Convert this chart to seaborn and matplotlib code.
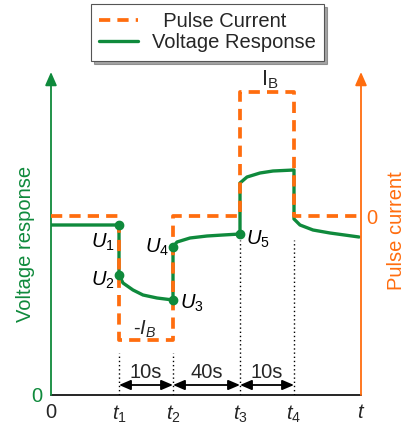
import numpy as np
import pandas as pd
import matplotlib
matplotlib.use("Agg")
import matplotlib.pyplot as plt
import seaborn as sns

# ---------------- data (schematic units) ----------------
time_v = [0, 68, 68, 72, 82, 92, 106, 122, 122, 126, 139, 156, 172, 189,
          189, 196, 209, 222, 243, 243, 249, 262, 279, 308]
voltage = [170, 170, 120, 112, 105, 100, 97, 95, 148, 153, 157, 159, 160, 161,
           212, 218, 222, 224, 225, 176, 170, 165, 162, 158]

time_i = [0, 68, 68, 122, 122, 189, 189, 243, 243, 310]
current = [0, 0, -1, -1, 0, 0, 1, 1, 0, 0]

point_t = [68, 68, 122, 122, 189]
point_v = [170, 120, 95, 148, 161]
point_labels = ["$U_1$", "$U_2$", "$U_3$", "$U_4$", "$U_5$"]
point_label_xy = [(52, 153), (52, 115), (141, 92), (106, 148), (207, 156)]

tick_t = [0, 68, 122, 189, 243, 310]
tick_labels = ["0", "$t_1$", "$t_2$", "$t_3$", "$t_4$", "$t$"]

interval_edges = [(68, 122), (122, 189), (189, 243)]
interval_labels = ["10s", "40s", "10s"]

GREEN = "#0f8a3c"
ORANGE = "#ff6d0f"

sns.set_theme(style="white")
plt.rcParams["font.family"] = ["Liberation Sans", "DejaVu Sans"]
plt.rcParams["mathtext.fontset"] = "custom"
plt.rcParams["mathtext.rm"] = "Liberation Sans"
plt.rcParams["mathtext.it"] = "Liberation Sans:italic"
plt.rcParams["mathtext.bf"] = "Liberation Sans:bold"

FS = 14.5

fig = plt.figure(figsize=(4.05, 4.29), dpi=100)
ax = fig.add_axes([51 / 405, 34 / 429, 310 / 405, 335 / 429])
ax2 = ax.twinx()

V_TOP = 335
ax.set_xlim(0, 310)
ax.set_ylim(0, V_TOP)
I0, IS = 179.0, 124.0
ax2.set_ylim(-I0 / IS, (V_TOP - I0) / IS)

df_v = pd.DataFrame({"t": time_v, "v": voltage})
df_i = pd.DataFrame({"t": time_i, "i": current})

sns.lineplot(data=df_v, x="t", y="v", ax=ax, sort=False, estimator=None,
             color=GREEN, lw=2.4, label="Voltage Response", legend=False)
sns.lineplot(data=df_i, x="t", y="i", ax=ax2, sort=False, estimator=None,
             color=ORANGE, lw=2.7, label="Pulse Current", legend=False,
             dashes=False)
vline = ax.get_lines()[0]
iline = ax2.get_lines()[0]
iline.set_dashes((3.0, 1.9))
iline.set_dash_capstyle("butt")

# markers on top of the current line
ax2.plot(point_t, point_v, "o", color=GREEN, ms=6, transform=ax.transData,
         zorder=5, clip_on=False)

for lab, (x, y) in zip(point_labels, point_label_xy):
    ax.text(x, y, lab, fontsize=FS, ha="center", va="center", color="black")

ax.text(94, 66, "-$I_B$", fontsize=FS, ha="center", va="center")
ax.text(219, 315, r"$\mathrm{I_B}$", fontsize=FS + 1, ha="center", va="center")

# dotted guide lines
ax.plot([68, 68], [0, 42], ls=(0, (1, 2)), color="black", lw=1)
ax.plot([122, 122], [0, 42], ls=(0, (1, 2)), color="black", lw=1)
ax.plot([189, 189], [0, 155], ls=(0, (1, 2)), color="black", lw=1)
ax.plot([243, 243], [0, 155], ls=(0, (1, 2)), color="black", lw=1)

for (a, b), lab in zip(interval_edges, interval_labels):
    ax.annotate("", xy=(b, 10), xytext=(a, 10),
                arrowprops=dict(arrowstyle="<|-|>,head_length=0.7,head_width=0.3",
                                color="black", lw=1.3, shrinkA=0, shrinkB=0,
                                mutation_scale=10))
    ax.text((a + b) / 2, 23, lab, fontsize=FS, ha="center", va="center")

# axis arrows
ax.annotate("", xy=(0, 323), xytext=(0, 0), annotation_clip=False,
            arrowprops=dict(arrowstyle="-|>,head_length=0.8,head_width=0.35",
                            color=GREEN, lw=1.3, shrinkA=0, shrinkB=0,
                            mutation_scale=10))
ax.annotate("", xy=(310, 323), xytext=(310, 0), annotation_clip=False,
            arrowprops=dict(arrowstyle="-|>,head_length=0.8,head_width=0.35",
                            color=ORANGE, lw=1.3, shrinkA=0, shrinkB=0,
                            mutation_scale=10))

for a in (ax, ax2):
    for s in ("top", "left", "right", "bottom"):
        a.spines[s].set_visible(False)
ax.spines["bottom"].set_visible(True)
ax.spines["bottom"].set_color("black")
ax.spines["bottom"].set_linewidth(1.2)

ax.set_xticks(tick_t)
ax.set_xticklabels(tick_labels, fontsize=FS)
ax.tick_params(axis="x", length=0, pad=6)
ax.set_yticks([0])
ax.set_yticklabels(["0"], fontsize=FS, color=GREEN)
ax.tick_params(axis="y", length=0, pad=6)
ax2.set_yticks([0])
ax2.set_yticklabels(["0"], fontsize=FS, color=ORANGE)
ax2.tick_params(axis="y", length=0, pad=4)

ax.set_xlabel("")
ax.set_ylabel("Voltage response", fontsize=FS, color=GREEN)
ax.yaxis.set_label_coords(-16 / 310, (395 - 244) / 335)
ax2.set_ylabel("Pulse current", fontsize=FS, color=ORANGE)
ax2.yaxis.set_label_coords((387 - 51) / 310, (395 - 231) / 335)

leg = fig.legend(handles=[iline, vline],
                 labels=["  Pulse Current", "Voltage Response"],
                 loc="upper center", bbox_to_anchor=(207.5 / 405, 1 - 4 / 429),
                 bbox_transform=fig.transFigure, fontsize=FS,
                 frameon=True, fancybox=False, shadow=True,
                 handlelength=1.9, handletextpad=0.7, labelspacing=0.1,
                 borderpad=0.42, borderaxespad=0)
leg.get_frame().set_edgecolor("#555555")
leg.get_frame().set_linewidth(0.8)

fig.savefig("out.png", dpi=100)
